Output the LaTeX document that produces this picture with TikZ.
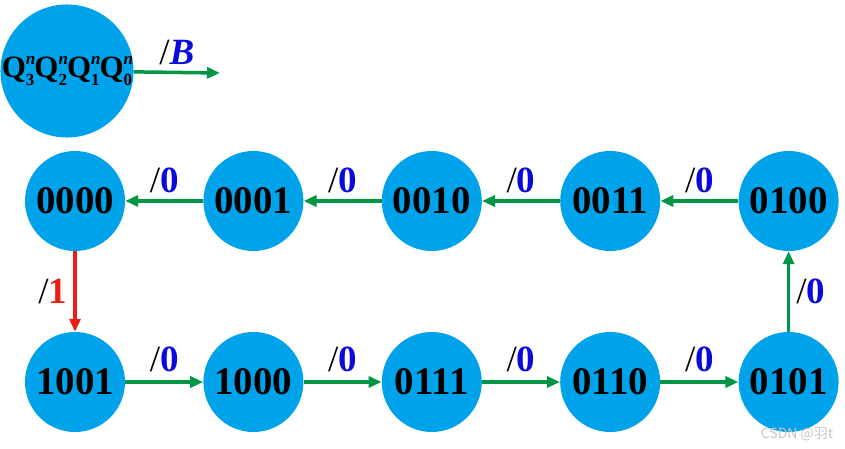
\documentclass[tikz,border=0pt]{standalone}
\usepackage{fontspec}
\setmainfont{Liberation Serif}
\newfontfamily\cjkfont{Noto Sans CJK SC}
\usetikzlibrary{arrows.meta,positioning}
\definecolor{statefill}{RGB}{0,162,233}
\definecolor{flowgreen}{RGB}{0,150,70}
\definecolor{flowred}{RGB}{235,30,20}
\definecolor{outblue}{RGB}{10,10,220}
\newcommand{\qsub}[1]{Q\rlap{\raisebox{0.42em}{\fontsize{17}{17}\selectfont\itshape n}}\raisebox{-0.24em}{\fontsize{17}{17}\selectfont #1}}
\newcommand{\outval}[2][outblue]{{\fontsize{37}{37}\selectfont\mdseries/\textcolor{#1}{\bfseries #2}}}
\begin{document}
\begin{tikzpicture}[
      x=1pt,y=-1pt,
      node distance=78pt,
      state/.style={circle,fill=statefill,minimum size=100pt,inner sep=0pt,font=\fontsize{39}{39}\selectfont\bfseries},
      flow/.style={-{Triangle[length=13pt,width=11pt]},line width=3.5pt,flowgreen},
      resetflow/.style={flow,flowred},
      outlabel/.style={text=black,inner sep=2pt}
    ]
      \useasboundingbox (0,0) rectangle (845,449);
      % legend
      \node[circle,fill=statefill,minimum size=132pt,inner sep=0pt,font=\fontsize{31}{31}\selectfont\bfseries] (legend) at (67,71) {\qsub{3}\qsub{2}\qsub{1}\qsub{0}};
      \coordinate (legendend) at (220,73);
      \draw[flow] (legend) -- (legendend) node[outlabel,midway,above=4pt] {\outval{\itshape B}};
      % upper row
      \node[state] (s0000) at (75,201) {0000};
      \node[state,right=of s0000] (s0001) {0001};
      \node[state,right=of s0001] (s0010) {0010};
      \node[state,right=of s0010] (s0011) {0011};
      \node[state,right=of s0011] (s0100) {0100};
      % lower row
      \node[state] (s1001) at (75,382) {1001};
      \node[state,right=of s1001] (s1000) {1000};
      \node[state,right=of s1000] (s0111) {0111};
      \node[state,right=of s0111] (s0110) {0110};
      \node[state,right=of s0110] (s0101) {0101};
      \draw[flow] (s0100) -- (s0011) node[outlabel,midway,above=4pt] {\outval{0}};
      \draw[flow] (s0011) -- (s0010) node[outlabel,midway,above=4pt] {\outval{0}};
      \draw[flow] (s0010) -- (s0001) node[outlabel,midway,above=4pt] {\outval{0}};
      \draw[flow] (s0001) -- (s0000) node[outlabel,midway,above=4pt] {\outval{0}};
      \draw[resetflow] (s0000) -- (s1001) node[outlabel,midway,left=4pt] {\outval[flowred]{1}};
      \draw[flow] (s1001) -- (s1000) node[outlabel,midway,above=6pt] {\outval{0}};
      \draw[flow] (s1000) -- (s0111) node[outlabel,midway,above=6pt] {\outval{0}};
      \draw[flow] (s0111) -- (s0110) node[outlabel,midway,above=6pt] {\outval{0}};
      \draw[flow] (s0110) -- (s0101) node[outlabel,midway,above=6pt] {\outval{0}};
      \draw[flow] (s0101) -- (s0100) node[outlabel,midway,right=4pt] {\outval{0}};
      % watermark
      \node[font=\cjkfont\fontsize{14}{14}\selectfont,text=gray!45] (mark) at (797,434) {CSDN @羽t};
    \end{tikzpicture}
\end{document}
